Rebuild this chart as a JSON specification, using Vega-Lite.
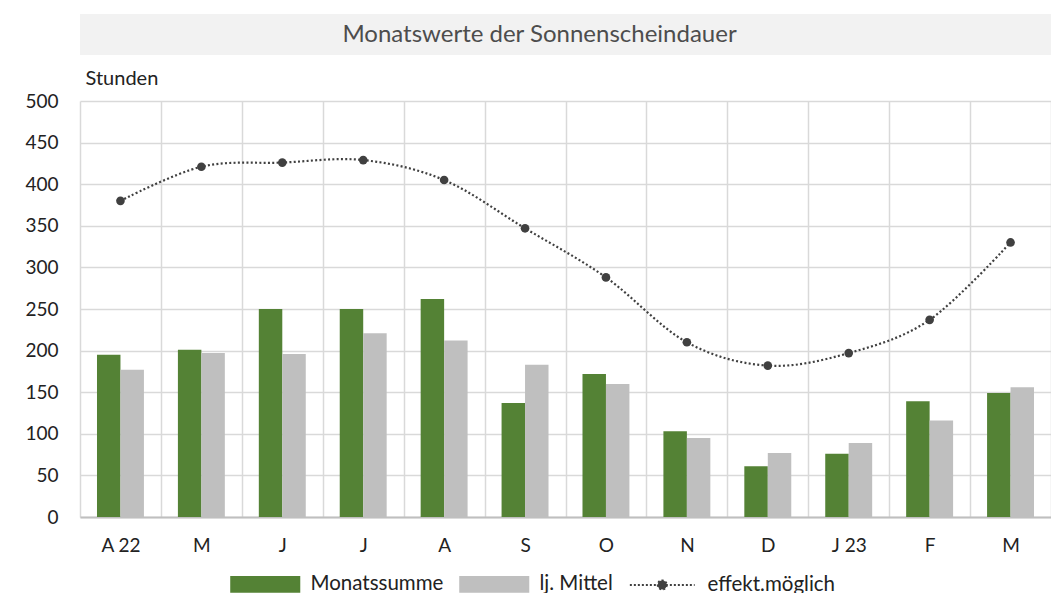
{
  "$schema": "https://vega.github.io/schema/vega-lite/v6.json",
  "padding": {"left": 24, "top": 14, "right": 0, "bottom": 0},
  "background": "white",
  "columns": 1,
  "spacing": 13,
  "config": {
    "font": "Lato",
    "view": {"stroke": null}
  },
  "concat": [
    {
      "width": 971,
      "height": 41,
      "view": {"fill": "#f2f2f2", "stroke": null},
      "data": {"values": [{"t": "Monatswerte der Sonnenscheindauer"}]},
      "mark": {"type": "text", "fontSize": 24, "color": "#4d4d4d", "font": "Lato", "dx": -26},
      "encoding": {"text": {"field": "t", "type": "nominal"}}
    },
    {
      "width": 971,
      "height": 416,
      "data": {
        "values": [
          {"mon": "Apr 22", "series": "Monatssumme", "value": 195},
          {"mon": "Mai 22", "series": "Monatssumme", "value": 201},
          {"mon": "Jun 22", "series": "Monatssumme", "value": 250},
          {"mon": "Jul 22", "series": "Monatssumme", "value": 250},
          {"mon": "Aug 22", "series": "Monatssumme", "value": 262},
          {"mon": "Sep 22", "series": "Monatssumme", "value": 137},
          {"mon": "Okt 22", "series": "Monatssumme", "value": 172},
          {"mon": "Nov 22", "series": "Monatssumme", "value": 103},
          {"mon": "Dez 22", "series": "Monatssumme", "value": 61},
          {"mon": "Jan 23", "series": "Monatssumme", "value": 76},
          {"mon": "Feb 23", "series": "Monatssumme", "value": 139},
          {"mon": "Mär 23", "series": "Monatssumme", "value": 149},
          {"mon": "Apr 22", "series": "lj. Mittel", "value": 177},
          {"mon": "Mai 22", "series": "lj. Mittel", "value": 197},
          {"mon": "Jun 22", "series": "lj. Mittel", "value": 196},
          {"mon": "Jul 22", "series": "lj. Mittel", "value": 221},
          {"mon": "Aug 22", "series": "lj. Mittel", "value": 212},
          {"mon": "Sep 22", "series": "lj. Mittel", "value": 183},
          {"mon": "Okt 22", "series": "lj. Mittel", "value": 160},
          {"mon": "Nov 22", "series": "lj. Mittel", "value": 95},
          {"mon": "Dez 22", "series": "lj. Mittel", "value": 77},
          {"mon": "Jan 23", "series": "lj. Mittel", "value": 89},
          {"mon": "Feb 23", "series": "lj. Mittel", "value": 116},
          {"mon": "Mär 23", "series": "lj. Mittel", "value": 156},
          {"mon": "Apr 22", "series": "effekt.möglich", "value": 380},
          {"mon": "Mai 22", "series": "effekt.möglich", "value": 421},
          {"mon": "Jun 22", "series": "effekt.möglich", "value": 426},
          {"mon": "Jul 22", "series": "effekt.möglich", "value": 429},
          {"mon": "Aug 22", "series": "effekt.möglich", "value": 405},
          {"mon": "Sep 22", "series": "effekt.möglich", "value": 347},
          {"mon": "Okt 22", "series": "effekt.möglich", "value": 288},
          {"mon": "Nov 22", "series": "effekt.möglich", "value": 210},
          {"mon": "Dez 22", "series": "effekt.möglich", "value": 182},
          {"mon": "Jan 23", "series": "effekt.möglich", "value": 197},
          {"mon": "Feb 23", "series": "effekt.möglich", "value": 237},
          {"mon": "Mär 23", "series": "effekt.möglich", "value": 330}
        ]
      },
      "encoding": {
        "x": {
          "field": "mon",
          "type": "nominal",
          "scale": {
            "domain": ["Apr 22", "Mai 22", "Jun 22", "Jul 22", "Aug 22", "Sep 22", "Okt 22", "Nov 22", "Dez 22", "Jan 23", "Feb 23", "Mär 23"],
            "paddingInner": 0,
            "paddingOuter": 0
          },
          "axis": {
            "title": null,
            "labelAngle": 0,
            "labelExpr": "datum.value === 'Apr 22' ? 'A 22' : datum.value === 'Jan 23' ? 'J 23' : isString(datum.value) ? substring(datum.value, 0, 1) : ''",
            "labelFontSize": 19,
            "labelColor": "#222222",
            "labelPadding": 19,
            "ticks": false,
            "tickBand": "extent",
            "grid": true,
            "gridColor": "#d9d9d9",
            "gridWidth": 1.5,
            "domainColor": "#bfbfbf",
            "domainWidth": 2
          }
        },
        "y": {
          "field": "value",
          "type": "quantitative",
          "scale": {"domain": [0, 500]},
          "axis": {
            "values": [0, 50, 100, 150, 200, 250, 300, 350, 400, 450, 500],
            "title": "Stunden",
            "titleAngle": 0,
            "titleAlign": "left",
            "titleBaseline": "alphabetic",
            "titleX": 5,
            "titleY": -17,
            "titleFontSize": 20,
            "titleFontWeight": "normal",
            "titleColor": "#222222",
            "labelFontSize": 19,
            "labelColor": "#222222",
            "labelPadding": 22,
            "ticks": false,
            "domain": false,
            "gridColor": "#d9d9d9",
            "gridWidth": 1.5
          }
        }
      },
      "layer": [
        {
          "transform": [{"filter": "datum.series !== 'effekt.möglich'"}],
          "mark": {"type": "bar"},
          "encoding": {
            "xOffset": {
              "field": "series",
              "type": "nominal",
              "scale": {"domain": ["Monatssumme", "lj. Mittel"], "paddingInner": 0, "paddingOuter": 0.724}
            },
            "color": {
              "field": "series",
              "type": "nominal",
              "scale": {
                "domain": ["Monatssumme", "lj. Mittel", "effekt.möglich"],
                "range": ["#548235", "#bfbfbf", "#404040"]
              },
              "legend": {
                "orient": "none",
                "legendX": 175,
                "legendY": 560,
                "direction": "horizontal",
                "title": null,
                "symbolSize": 324,
                "labelOffset": 35,
                "columnPadding": 12,
                "labelFontSize": 20.5,
                "labelColor": "#222222",
                "encode": {
                  "symbols": {
                    "update": {
                      "shape": {"signal": "datum.value === 'effekt.möglich' ? 'M-3.6,0H3.6M0.5,0A0.5,0.5,0,1,1,-0.5,0A0.5,0.5,0,1,1,0.5,0' : 'M-3.78,-0.83H3.78V0.83H-3.78Z'"},
                      "fill": {"signal": "datum.value === 'effekt.möglich' ? '#404040' : datum.value === 'lj. Mittel' ? '#bfbfbf' : '#548235'"},
                      "stroke": {"signal": "datum.value === 'effekt.möglich' ? '#404040' : 'transparent'"},
                      "strokeWidth": {"value": 2},
                      "strokeDash": {"signal": "datum.value === 'effekt.möglich' ? [2, 2] : [1, 0]"},
                      "opacity": {"value": 1},
                      "fillOpacity": {"value": 1},
                      "strokeOpacity": {"value": 1}
                    }
                  }
                }
              }
            }
          }
        },
        {
          "transform": [{"filter": "datum.series === 'effekt.möglich'"}],
          "mark": {"type": "line", "interpolate": "cardinal", "strokeDash": [2, 2.3], "strokeWidth": 2.2},
          "encoding": {
            "color": {"field": "series", "type": "nominal"}
          }
        },
        {
          "transform": [{"filter": "datum.series === 'effekt.möglich'"}],
          "mark": {"type": "point", "filled": true, "size": 75, "opacity": 1},
          "encoding": {
            "color": {"field": "series", "type": "nominal"}
          }
        }
      ]
    }
  ]
}
